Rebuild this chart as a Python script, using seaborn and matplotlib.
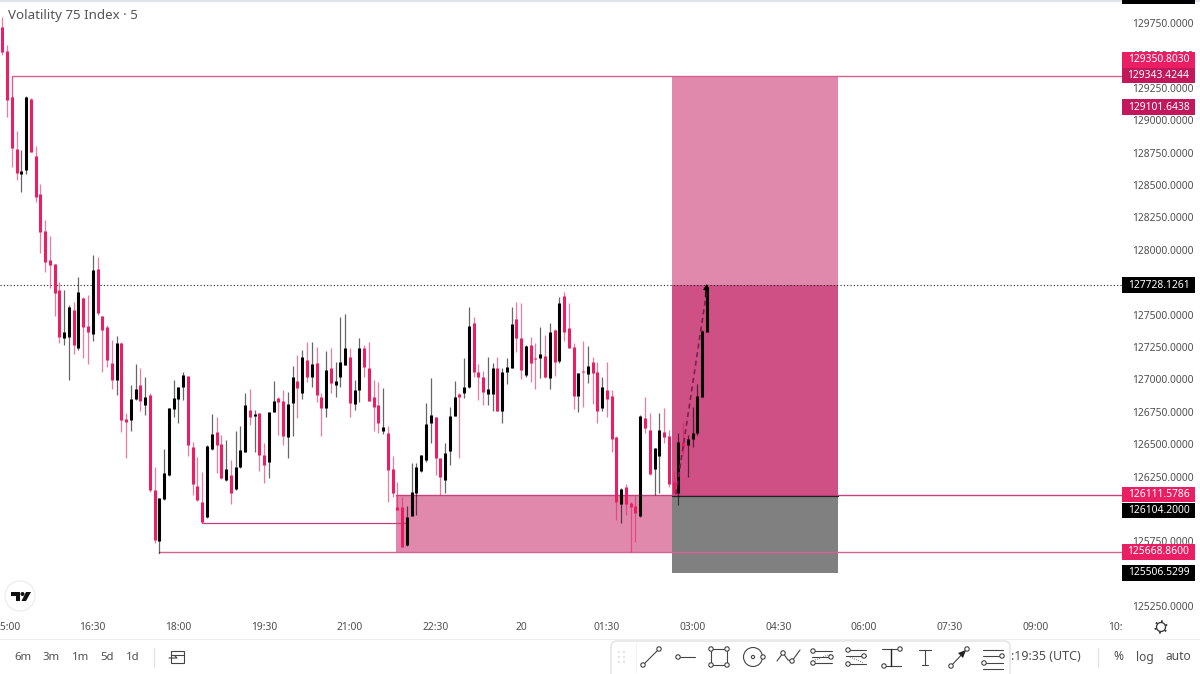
import pandas as pd
import seaborn as sns
import matplotlib
matplotlib.use('Agg')
import matplotlib.pyplot as plt
from matplotlib.patches import Rectangle, Circle, FancyBboxPatch, Polygon
from matplotlib.transforms import Bbox, blended_transform_factory

# bar colours, R = down, B = up
colours = ("RRRRBBRRRR" "RRRBBRBRRB" "RRRRBRRBBR" "BRRBBBBBBR" "RRRBBRRBRB"
           "BBRBRRBBRR" "BBRBRBRRBR" "BBBRBBRRRR" "BRRRRBBBBB" "BRRBBBRBBR"
           "RRBBRBBBRR" "BRRBRBRBRR" "RBRBRRBRRR" "BRRRBRRBBR" "RRBRBBBBB")

highs = [129797,129581,129187,128917,128771,129187,129172,128801,128508,128230,
         128107,127891,127752,127690,127575,127598,127791,127636,127652,127960,
         127945,127490,127420,127305,127335,127289,126741,126957,127119,127088,
         127019,126896,126325,126085,126464,126780,126996,126942,127058,127027,
         126518,126402,126286,126494,126734,126710,126572,126533,126379,126602,
         126641,126896,126926,126764,126741,126510,126749,126988,126865,126919,
         126903,127104,127189,127227,127289,127289,127251,126896,127220,127243,
         127135,127482,127505,127243,126996,127320,127266,127289,126996,126981,
         126934,126641,126410,126209,126093,126024,126355,126355,126417,126818,
         127011,126710,126394,126510,126788,126988,126896,127166,127559,127482,
         127119,127065,127173,127127,127173,127088,127166,127559,127598,127590,
         127266,127328,127281,127405,127343,127436,127389,127636,127675,127590,
         127281,127050,127297,127258,127173,127135,127019,127135,126919,126564,
         126163,126193,126055,126109,126726,126865,126741,126471,126741,126780,
         126610,126286,126587,126672,126572,126788,126965,127382,127729]

body_tops = [129720,129534,129180,128778,128609,129180,129164,128724,128431,128146,
             127922,127891,127690,127366,127559,127536,127675,127629,127413,127845,
             127852,127490,127405,127127,127281,127281,126695,126849,126926,126957,
             126865,126880,126147,126085,126278,126780,126857,126942,127034,127027,
             126479,126178,126055,126487,126579,126595,126502,126309,126263,126325,
             126456,126803,126764,126734,126741,126417,126749,126834,126857,126834,
             126811,127019,126988,127173,127150,127119,127127,126865,127073,127088,
             126988,127135,127243,127173,126919,127243,127243,127088,126865,126803,
             126633,126587,126309,126016,126016,125939,126132,126325,126417,126656,
             126726,126710,126394,126433,126718,126865,126888,126942,127413,127436,
             127058,127019,126926,127088,127088,127058,127096,127428,127467,127320,
             127258,127266,127166,127197,127181,127366,127382,127590,127644,127397,
             127251,127050,127065,127104,127135,127058,126942,126919,126872,126556,
             126155,126170,126047,126024,126718,126703,126610,126471,126610,126595,
             126564,126209,126518,126518,126541,126587,126872,127374,127714]

body_bottoms = [129527,129156,128786,128593,128585,128616,128755,128408,128138,127906,
                127883,127667,127328,127320,127328,127266,127243,127405,127366,127351,
                127513,127382,127150,126996,126996,126687,126672,126687,126849,126834,
                126803,126147,125761,125754,126078,126263,126772,126849,126942,126494,
                126193,126070,125900,125939,126464,126494,126240,126224,126124,126155,
                126325,126440,126710,126718,126417,126340,126363,126749,126826,126564,
                126556,126818,126934,126896,127019,127019,126880,126780,126780,126973,
                126957,127019,127112,126818,126811,126919,127096,126834,126788,126664,
                126602,126301,126124,125993,125707,125723,125947,126124,126294,126379,
                126664,126394,126248,126224,126448,126718,126865,126896,126942,127058,
                127019,126903,126888,126888,126757,126757,127058,127088,127320,127073,
                127034,127127,127158,127166,127019,127011,127135,127143,127366,127243,
                126872,126872,127058,127042,127050,126757,126780,126849,126541,126055,
                126039,126039,126016,125970,125947,126626,126271,126309,126410,126556,
                126193,126124,126124,126479,126494,126541,126587,126865,127366]

lows = [129504,129025,128639,128539,128447,128585,128755,128369,127976,127829,
        127706,127490,127281,127266,126996,127197,127227,127166,127119,127297,
        127497,127058,127096,126926,126880,126595,126394,126602,126842,126757,
        126726,126132,125738,125661,126070,126255,126710,126664,126842,126410,
        126109,126062,125893,125931,126456,126278,126232,126217,126039,126147,
        126317,126440,126649,126440,126294,126201,126240,126749,126572,126494,
        126394,126564,126703,126849,126981,126942,126826,126564,126710,126896,
        126865,126942,127112,126710,126764,126826,127019,126834,126602,126587,
        126579,126055,126093,125993,125707,125715,125947,125954,126286,126363,
        126510,126263,126109,126124,126340,126718,126394,126857,126934,127019,
        126842,126803,126803,126757,126757,126664,126965,127088,127212,127004,
        127019,126981,126926,127011,127011,126926,127027,127127,127297,127243,
        126772,126749,126788,126973,126811,126664,126757,126710,126440,125916,
        125893,125954,125669,125746,125939,126587,126263,126109,126124,126510,
        126170,126124,126031,126417,126248,126479,126572,126865,127366]

time_ticks = [1, 19, 37, 55, 73, 91, 109, 127, 145, 163, 181, 199, 217, 235]
time_labels = ['15:00', '16:30', '18:00', '19:30', '21:00', '22:30', '20', '01:30',
               '03:00', '04:30', '06:00', '07:30', '09:00', '10:30']
# 125500, 126000 and 127750 sit fully under the price tags, so they are left out
price_ticks = [125250, 125750, 126250, 126500, 126750, 127000, 127250, 127500,
               128000, 128250, 128500, 128750, 129000, 129250, 129500, 129750]

target = 129343.4244
last_price = 127728.1261
entry = 126104.2000
stop = 125506.5299
zone_top = 126111.5786
zone_bottom = 125668.8600
swing_low = 125892.0

PINK = '#e91e63'
DEEP = '#c2185b'
LINE = '#d8608f'
TXT = '#4f4f4f'
PX = 7.716  # price units per pixel

sns.set_style('white')
plt.rcParams['font.family'] = ['Noto Sans', 'DejaVu Sans']

fig = plt.figure(figsize=(12, 6.74), dpi=100)
ax = fig.add_axes([0, 1 - 612 / 674, 1122 / 1200, 610 / 674])

bars = pd.DataFrame({'bar': range(len(highs)), 'colour': list(colours), 'high': highs,
                     'top': body_tops, 'bottom': body_bottoms, 'low': lows})
wicks = bars.melt(id_vars=['bar', 'colour'], value_vars=['high', 'low'], value_name='price')
bodies = bars.melt(id_vars=['bar', 'colour'], value_vars=['top', 'bottom'], value_name='price')
palette = {'R': PINK, 'B': '#000000'}

sns.lineplot(data=wicks, x='bar', y='price', hue='colour', units='bar', estimator=None, palette=palette,
             legend=False, lw=0.9, alpha=0.6, solid_capstyle='butt', zorder=4, ax=ax)
sns.lineplot(data=bodies, x='bar', y='price', hue='colour', units='bar', estimator=None, palette=palette,
             legend=False, lw=2.2, solid_capstyle='butt', zorder=5, ax=ax)

ax.set_xlim(-0.483, 235.2)
ax.set_ylim(125205.3, 129912)

# position tool and zone
ax.add_patch(Rectangle((140.7, last_price), 34.9, target - last_price, fc='#e089ad', ec='none', zorder=1))
ax.add_patch(Rectangle((140.7, entry), 34.9, last_price - entry, fc='#cf5085', ec='none', zorder=1))
ax.add_patch(Rectangle((140.7, stop), 34.9, entry - stop, fc='#808080', ec='none', zorder=1))
ax.add_patch(Rectangle((82.7, zone_bottom), 58, zone_top - zone_bottom, fc='#e089ad', ec='none', zorder=1))

# level lines
ax.plot([2, 2, 235.2], [highs[5] - 7, target, target], color=LINE, lw=1, zorder=2)
ax.plot([33, 33, 235.2], [lows[33], zone_bottom, zone_bottom], color=LINE, lw=1, zorder=2)
ax.plot([42, 85], [swing_low, swing_low], color='#c23c78', lw=0.9, zorder=2)
ax.plot([82.7, 235.2], [zone_top, zone_top], color='#c9427f', lw=1, zorder=2)
ax.plot([140.7, 175.6], [entry, entry], color='#222222', lw=0.9, zorder=2)
ax.plot([-0.483, 235.2], [last_price, last_price], color='#222222', lw=0.8, ls=(0, (1, 2)), zorder=3)

# dashed arrow on the entry
ax.plot([141.5, 148], [entry + 10, last_price - 40], color='#7d1f50', lw=1.2, ls=(0, (3, 2.2)), zorder=6)
ax.annotate('', xy=(148, last_price + 10), xytext=(147.7, last_price - 90),
            arrowprops=dict(arrowstyle='-|>', color='black', lw=1, mutation_scale=8, shrinkA=0, shrinkB=0), zorder=7)

ax.set_xticks(time_ticks)
ax.set_xticklabels(time_labels)
ax.set_yticks(price_ticks)
ax.set_yticklabels(['%.4f' % p for p in price_ticks])
ax.yaxis.tick_right()
ax.tick_params(axis='x', length=0, pad=7, labelsize=7.4, labelcolor=TXT)
ax.tick_params(axis='y', length=0, pad=7, labelsize=7.4, labelcolor=TXT)
ax.set_xlabel('')
ax.set_ylabel('')
ax.patch.set_alpha(0)
sns.despine(ax=ax, left=True, bottom=True, right=True, top=True)

for lab in ax.get_xticklabels():
    lab.set_clip_on(True)
    lab.set_clip_box(Bbox([[0, 0], [1122, 674]]))
ax.get_xticklabels()[6].set_fontweight('bold')

ax.text(0.007, 0.9785, 'Volatility 75 Index · 5', transform=ax.transAxes, fontsize=9.6,
        color='#555555', va='center', ha='left')


def price_tag(value, colour, shift=0):
    # tags are moved by some pixels when two of them would overlap, shift > 0 is down
    trans = blended_transform_factory(ax.transAxes, ax.transData)
    y = value - shift * PX
    ax.add_patch(Rectangle((1.0, y - 7.8 * PX), 73 / 1122, 15.6 * PX, fc=colour, ec='none',
                           transform=trans, clip_on=False, zorder=8))
    ax.text(1 + 36.5 / 1122, y, '%.4f' % value, color='white', fontsize=7.4, ha='center', va='center',
            transform=trans, clip_on=False, zorder=9)


price_tag(129350.8030, PINK, shift=-15)
price_tag(target, DEEP)
price_tag(129101.6438, DEEP)
price_tag(last_price, '#000000')
price_tag(zone_top, PINK)
price_tag(entry, '#000000', shift=15)
price_tag(zone_bottom, PINK)
price_tag(stop, '#000000')

# everything around the chart, in pixels
ui = fig.add_axes([0, 0, 1, 1], zorder=10)
ui.set_xlim(0, 1200)
ui.set_ylim(674, 0)
ui.axis('off')
ui.patch.set_alpha(0)

ui.add_patch(Rectangle((0, 0), 1200, 1.6, fc='#e0e3eb', ec='none'))
ui.add_patch(Rectangle((1122, 0), 73, 4, fc='black', ec='none'))
ui.add_patch(Rectangle((0, 638.6), 1200, 1.6, fc='#ececec', ec='none'))

# logo
ui.add_patch(Circle((20, 596), 15, fc='white', ec='#eeeeee', lw=1))
ui.add_patch(Polygon([(11, 592), (20, 592), (20, 601), (16, 601), (16, 596), (11, 596)], fc='#111111', ec='none'))
ui.add_patch(Circle((22.5, 594), 2, fc='#111111', ec='none'))
ui.add_patch(Polygon([(26, 592), (31, 592), (26, 601), (21.5, 601)], fc='#111111', ec='none'))

# gear
ui.add_patch(Circle((1161, 627), 4.5, fc='white', ec='#333333', lw=0.9))
ui.add_patch(Circle((1161, 627), 5.8, fc='none', ec='#333333', lw=1.3, ls=(0, (1, 2.4))))

for label, x in zip(['6m', '3m', '1m', '5d', '1d'], [23, 51, 81, 107, 133]):
    ui.text(x, 657, label, fontsize=8.2, color=TXT, ha='center', va='center')
ui.plot([154, 154], [648, 667], color='#e4e4e4', lw=1)

# calendar icon
ui.add_patch(Rectangle((171, 651), 13, 12, fc='none', ec='#444444', lw=0.8))
ui.plot([171, 184], [654.5, 654.5], color='#444444', lw=0.8)
ui.plot([169, 177, 175], [658, 658, 656], color='#444444', lw=0.8)

ui.text(1011, 657, ':19:35 (UTC)', fontsize=9, color=TXT, ha='left', va='center')
ui.plot([1098, 1098], [648, 667], color='#e4e4e4', lw=1)
for label, x in zip(['%', 'log', 'auto'], [1118, 1145, 1178]):
    ui.text(x, 657, label, fontsize=8.6, color=TXT, ha='center', va='center')

# drawing toolbar
ui.add_patch(FancyBboxPatch((611, 641), 399, 40, boxstyle='round,pad=0,rounding_size=6', fc='white',
                            ec='#e6e6e6', lw=1.2, zorder=3))
ink = dict(color='#444444', lw=0.8, zorder=4)


def node(x, y):
    ui.add_patch(Circle((x, y), 2.2, fc='white', ec='#444444', lw=0.8, zorder=5))


for gx in (619, 624):
    for gy in (652, 657, 662):
        ui.add_patch(Circle((gx, gy), 0.8, fc='#c8c8c8', ec='none', zorder=4))
ui.plot([636, 636], [643, 672], color='#f0f0f0', lw=0.8, zorder=4)

ui.plot([643, 659], [665, 649], **ink)
node(643, 665)
node(659, 649)

ui.plot([678, 695], [657, 657], **ink)
node(678, 657)

ui.add_patch(Rectangle((711, 649), 16, 16, fc='none', ec='#444444', lw=0.8, zorder=4))
for cx, cy in [(711, 649), (727, 649), (711, 665), (727, 665)]:
    node(cx, cy)

ui.add_patch(Circle((753, 657), 9.5, fc='none', ec='#444444', lw=0.8, zorder=4))
ui.add_patch(Circle((753, 657), 1.6, fc='none', ec='#444444', lw=0.8, zorder=4))
node(763, 657)

ui.plot([777, 783, 788, 792, 800], [661, 653, 660, 661, 650], **ink)
node(783, 653)
node(792, 661)

for y in (651, 657, 663):
    ui.plot([812, 832], [y, y], **ink)
ui.plot([815, 831], [660, 654], color='#444444', lw=0.6, ls=':', zorder=4)
node(813, 651)
node(831, 657)
node(813, 663)

for y in (650, 656, 664):
    ui.plot([846, 866], [y, y], **ink)
ui.plot([850, 864], [657, 663], color='#444444', lw=0.6, ls=':', zorder=4)
node(848, 650)
node(864, 656)
node(848, 664)

ui.plot([882, 899], [649, 649], **ink)
ui.plot([885, 901], [666, 666], **ink)
ui.plot([891, 891], [649, 666], color='#222222', lw=1, zorder=4)
node(900, 649)
node(884, 666)

ui.plot([925, 925], [650, 665], **ink)
ui.plot([919, 931], [650, 650], **ink)
ui.plot([922, 928], [665, 665], **ink)

ui.plot([951, 966], [666, 650], **ink)
ui.add_patch(Polygon([(966, 650), (958, 653), (963, 658)], fc='#222222', ec='none', zorder=5))
node(951, 666)
node(967, 649)

for y in (650, 656, 663, 669):
    ui.plot([983, 1003], [y, y], **ink)
node(1002, 656)
node(984, 663)

fig.savefig('out.png', dpi=100)
